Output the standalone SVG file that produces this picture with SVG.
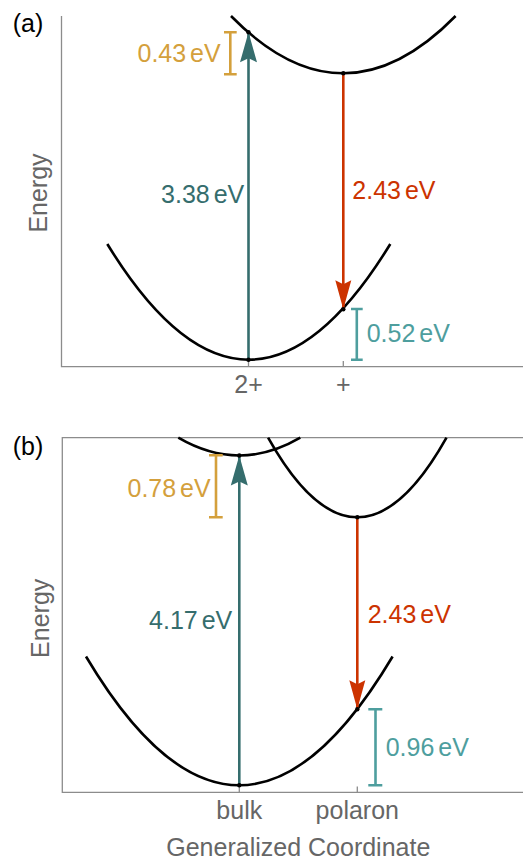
<svg xmlns="http://www.w3.org/2000/svg" width="523" height="859" viewBox="0 0 523 859">
<style>
text{font-family:"Liberation Sans",Arial,sans-serif;font-size:25px;word-spacing:-3px}
.ax{stroke:#8c8c8c;stroke-width:1.3;fill:none}
.lab{fill:#666}
.curve{stroke:#000;stroke-width:2.6;fill:none}
.up{stroke:#356d6d;stroke-width:2.6;fill:none}
.dn{stroke:#cc3300;stroke-width:2.6;fill:none}
.org{stroke:#d4a03c;stroke-width:2.6;fill:none}
.lt{stroke:#4e9e9e;stroke-width:2.6;fill:none}
.dot{fill:#000}
</style>
<defs>
<marker id="hUp" markerUnits="userSpaceOnUse" markerWidth="40" markerHeight="40" refX="0" refY="0" orient="auto" overflow="visible">
<path d="M0,0 L-30,-8.5 L-26,0 L-30,8.5 Z" fill="#356d6d"/>
</marker>
<marker id="hDn" markerUnits="userSpaceOnUse" markerWidth="40" markerHeight="40" refX="0" refY="0" orient="auto" overflow="visible">
<path d="M0,0 L-29,-8 L-25,0 L-29,8 Z" fill="#cc3300"/>
</marker>
</defs>

<g id="panel-a-axes">
<path class="ax" d="M61.5,16 V366.7 H523"/>
<path class="ax" d="M248.5,361 V366.7 M343.3,361 V366.7"/>
<text class="lab" x="248.5" y="393.3" text-anchor="middle">2+</text>
<text class="lab" x="343.3" y="393.3" text-anchor="middle">+</text>
<text class="lab" transform="translate(46.7,193) rotate(-90)" text-anchor="middle">Energy</text>
<text x="12.7" y="32.3" fill="#000">(a)</text>
</g>

<g id="panel-a-upper">
<path class="curve" d="M231,16 Q343.3,130.6 455.6,16"/>
</g>
<g id="panel-a-lower">
<path class="curve" d="M107.3,244 Q248.8,475.4 390.3,244"/>
</g>

<g id="panel-a-connectors">
<path class="up" d="M248.5,359.7 V32.3" marker-end="url(#hUp)"/>
<path class="dn" d="M343.3,73.3 V309.3" marker-end="url(#hDn)"/>
<path class="org" d="M230.3,32.3 V74.3 M224,32.3 H236.7 M224,74.3 H236.7"/>
<path class="lt" d="M356.8,309 V359.7 M351,309 H362.7 M351,359.7 H362.7"/>
<circle class="dot" cx="248.5" cy="32.3" r="2.2"/>
<circle class="dot" cx="343.3" cy="73.3" r="2.2"/>
<circle class="dot" cx="248.5" cy="359.7" r="2.2"/>
<circle class="dot" cx="343.3" cy="309.3" r="2.2"/>
</g>
<g id="panel-a-labels">
<text x="220.7" y="61.7" text-anchor="end" fill="#d4a03c">0.43 eV</text>
<text x="244.3" y="203.3" text-anchor="end" fill="#356d6d">3.38 eV</text>
<text x="352.3" y="199.3" fill="#cc3300">2.43 eV</text>
<text x="366.7" y="342.3" fill="#4e9e9e">0.52 eV</text>
</g>

<g id="panel-b-axes">
<path class="ax" d="M523,437.7 H62.3 V792.3 H523"/>
<path class="ax" d="M239.3,786.5 V792.3 M357.3,786.5 V792.3"/>
<text class="lab" x="239.3" y="819.3" text-anchor="middle">bulk</text>
<text class="lab" x="357.3" y="819.3" text-anchor="middle">polaron</text>
<text class="lab" transform="translate(49,618.3) rotate(-90)" text-anchor="middle">Energy</text>
<text class="lab" x="298.3" y="855.5" text-anchor="middle" style="word-spacing:0">Generalized Coordinate</text>
<text x="12.7" y="455" fill="#000">(b)</text>
</g>

<g id="panel-b-upper-bulk">
<path class="curve" d="M178.3,437.7 Q239.3,473.3 300.3,437.7"/>
</g>
<g id="panel-b-upper-polaron">
<path class="curve" d="M268.1,437.7 Q357.3,596.9 446.5,437.7"/>
</g>
<g id="panel-b-lower">
<path class="curve" d="M86,656.5 Q239.3,914.1 392.6,656.5"/>
</g>

<g id="panel-b-connectors">
<path class="up" d="M239.3,785.3 V455.5" marker-end="url(#hUp)"/>
<path class="dn" d="M357.3,517.3 V709.3" marker-end="url(#hDn)"/>
<path class="org" d="M216,455.3 V517.3 M209,455.3 H222.7 M209,517.3 H222.7"/>
<path class="lt" d="M375.5,709.3 V785.3 M368.3,709.3 H382.3 M368.3,785.3 H382.3"/>
<circle class="dot" cx="239.3" cy="455.5" r="2.2"/>
<circle class="dot" cx="357.3" cy="517.3" r="2.2"/>
<circle class="dot" cx="239.3" cy="785.3" r="2.2"/>
<circle class="dot" cx="357.3" cy="709.3" r="2.2"/>
</g>
<g id="panel-b-labels">
<text x="210.7" y="496.7" text-anchor="end" fill="#d4a03c">0.78 eV</text>
<text x="232.3" y="629.3" text-anchor="end" fill="#356d6d">4.17 eV</text>
<text x="367.7" y="622.7" fill="#cc3300">2.43 eV</text>
<text x="385.7" y="755.7" fill="#4e9e9e">0.96 eV</text>
</g>
</svg>
